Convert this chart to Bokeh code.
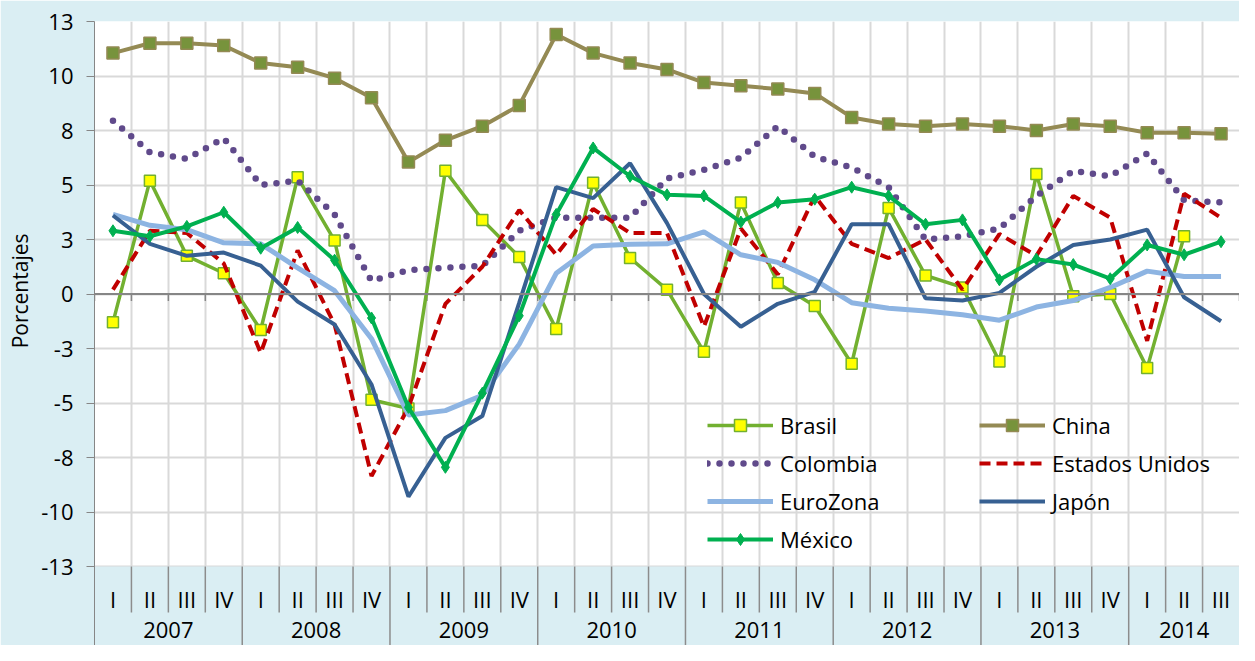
import numpy as np
from bokeh.plotting import figure
from bokeh.models import Range1d, FixedTicker, Legend, LegendItem, Span, Grid, Title
from bokeh.embed import file_html
from bokeh.resources import INLINE
from bokeh.core.properties import value

nan = float("nan")

# ---------------- data ----------------
years = ["2007", "2008", "2009", "2010", "2011", "2012", "2013", "2014"]
quarters_per_year = [4, 4, 4, 4, 4, 4, 4, 3]
quarter_names = ["I", "II", "III", "IV"]
quarters = [quarter_names[q] for n in quarters_per_year for q in range(n)]

brasil = [-1.3, 5.2, 1.75, 0.95,
          -1.65, 5.35, 2.45, -4.85,
          -5.25, 5.65, 3.4, 1.7,
          -1.6, 5.1, 1.65, 0.2,
          -2.65, 4.2, 0.5, -0.55,
          -3.2, 3.95, 0.85, 0.3,
          -3.1, 5.5, -0.1, 0.0,
          -3.4, 2.65, nan]

china = [11.05, 11.5, 11.5, 11.4,
         10.6, 10.4, 9.9, 9.0,
         6.05, 7.05, 7.7, 8.65,
         11.9, 11.05, 10.6, 10.3,
         9.7, 9.55, 9.4, 9.2,
         8.1, 7.8, 7.7, 7.8,
         7.7, 7.5, 7.8, 7.7,
         7.4, 7.4, 7.35]

colombia = [7.95, 6.5, 6.2, 7.15,
            5.0, 5.2, 3.65, 0.6,
            1.1, 1.2, 1.3, 2.9,
            3.5, 3.5, 3.5, 5.3,
            5.7, 6.25, 7.7, 6.3,
            5.8, 4.9, 2.5, 2.65,
            3.0, 4.5, 5.65, 5.4,
            6.45, 4.3, 4.2]

estados_unidos = [0.2, 2.9, 2.8, 1.4,
                  -2.7, 2.0, -1.4, -8.35,
                  -5.2, -0.45, 1.25, 3.85,
                  1.8, 3.9, 2.8, 2.8,
                  -1.5, 3.0, 0.9, 4.5,
                  2.3, 1.65, 2.5, 0.2,
                  2.75, 1.75, 4.5, 3.5,
                  -2.15, 4.6, 3.5]

eurozona = [3.65, 3.15, 2.95, 2.35,
            2.3, 1.2, 0.15, -2.05,
            -5.55, -5.35, -4.65, -2.3,
            0.95, 2.2, 2.28, 2.3,
            2.85, 1.8, 1.45, 0.65,
            -0.4, -0.65, -0.78, -0.95,
            -1.2, -0.6, -0.3, 0.3,
            1.05, 0.8, 0.8]

japon = [3.6, 2.3, 1.75, 1.9,
         1.3, -0.35, -1.4, -4.15,
         -9.3, -6.6, -5.6, -0.4,
         4.9, 4.4, 6.0, 3.25,
         0.0, -1.5, -0.45, 0.1,
         3.2, 3.2, -0.2, -0.3,
         0.05, 1.25, 2.25, 2.5,
         2.95, -0.15, -1.25]

mexico = [2.9, 2.65, 3.1, 3.75,
          2.1, 3.05, 1.55, -1.1,
          -5.2, -7.95, -4.55, -1.0,
          3.65, 6.7, 5.4, 4.55,
          4.5, 3.3, 4.2, 4.35,
          4.9, 4.5, 3.2, 3.4,
          0.65, 1.6, 1.35, 0.7,
          2.25, 1.8, 2.4]

y_ticks = [-12.5, -10, -7.5, -5, -2.5, 0, 2.5, 5, 7.5, 10, 12.5]
y_tick_labels = ["-13", "-10", "-8", "-5", "-3", "0", "3", "5", "8", "10", "13"]

# ---------------- style / layout ----------------
FONT = "Open Sans"
BG = "#DAEEF3"
GRID = "#D9D9D9"
AXIS = "#868686"
SEP = "#8C8C8C"
TXT = "#000000"

FIG_W, FIG_H = 1239, 645
TOP_BORDER, LEFT_BORDER = 21, 93
PLOT_BOT_PX = 566                 # figure px of bottom gridline
ppu = (PLOT_BOT_PX - TOP_BORDER) / (y_ticks[-1] - y_ticks[0])   # px per unit
def below(px):  # data y for a point px pixels below the bottom gridline
    return y_ticks[0] - px / ppu
y_start = below(FIG_H - PLOT_BOT_PX)

n = len(quarters)
x = np.arange(n) + 0.5
bounds = np.arange(n + 1)

p = figure(width=FIG_W, height=FIG_H,
           x_range=Range1d(0, n), y_range=Range1d(y_start, y_ticks[-1]),
           x_axis_location=None, output_backend="svg", toolbar_location=None,
           min_border_left=LEFT_BORDER, min_border_right=0,
           min_border_top=TOP_BORDER, min_border_bottom=0)
p.background_fill_color = "white"
p.border_fill_color = BG
p.outline_line_color = None

# y axis
yax = p.yaxis[0]
yax.ticker = FixedTicker(ticks=y_ticks)
yax.major_label_overrides = dict(zip(y_ticks, y_tick_labels))
yax.major_label_text_font = FONT
yax.major_label_text_font_size = "22px"
yax.major_label_text_color = TXT
yax.major_label_standoff = 13
yax.major_tick_in = 0
yax.major_tick_out = 8
yax.major_tick_line_color = AXIS
yax.minor_tick_line_color = None
yax.axis_line_color = AXIS
yax.axis_line_width = 1

# axis title (placed as a side title so it centres on the plotting area, not the table)
p.add_layout(Title(text="Porcentajes", align="right", offset=212, standoff=8,
                   vertical_align="middle", text_font=FONT, text_font_size="21px",
                   text_font_style="normal", text_color=TXT), "left")

# grids
p.ygrid.ticker = FixedTicker(ticks=y_ticks)
p.ygrid.grid_line_color = GRID
p.ygrid.grid_line_width = 2
vgrid = Grid(dimension=0, ticker=FixedTicker(ticks=list(bounds)),
             grid_line_color=GRID, grid_line_width=2)
p.add_layout(vgrid)

# category table background (below the plotting area)
p.quad(left=0, right=n, bottom=y_start, top=y_ticks[0], fill_color=BG, line_color=None)

# horizontal axis line at zero with ticks
p.add_layout(Span(location=0, dimension="width", line_color=AXIS, line_width=2))
p.segment(x0=bounds, y0=0, x1=bounds, y1=-7 / ppu, line_color=AXIS, line_width=1.5)

# ---------------- series ----------------
items = {}

r1 = p.line(x, brasil, line_color="#72B030", line_width=3.5)
r2 = p.scatter(x, brasil, marker="square", size=11, fill_color="#FFFF00",
               line_color="#72B030", line_width=1.5)
items["Brasil"] = [r1, r2]

r1 = p.line(x, china, line_color="#948A54", line_width=4)
r2 = p.scatter(x, china, marker="square", size=12, fill_color="#77933C",
               line_color="#948A54", line_width=1.5)
items["China"] = [r1, r2]

r1 = p.line(x, colombia, line_color="#604A8B", line_width=6.5,
            line_dash="0 12", line_cap="round")
items["Colombia"] = [r1]

r1 = p.line(x, estados_unidos, line_color="#C00000", line_width=4, line_dash="11 6")
items["Estados Unidos"] = [r1]

r1 = p.line(x, eurozona, line_color="#8DB4E2", line_width=5)
items["EuroZona"] = [r1]

r1 = p.line(x, japon, line_color="#376092", line_width=4)
items["Japón"] = [r1]

r1 = p.line(x, mexico, line_color="#00B050", line_width=4)
r2 = p.scatter(x, mexico, marker="diamond", size=12, fill_color="#00B050",
               line_color="#00B050")
items["México"] = [r1, r2]

def make_legend(names, left_px, top_px):
    rows = len(names)
    h = rows * 30 + (rows - 1) * 8
    loc = (left_px - LEFT_BORDER, FIG_H - (top_px + h))
    lg = Legend(items=[LegendItem(label=nm, renderers=items[nm]) for nm in names],
                location=loc, orientation="vertical",
                glyph_width=66, glyph_height=30, label_height=30,
                label_standoff=7, spacing=8, padding=0, margin=0,
                border_line_color=None, background_fill_alpha=0,
                label_text_font=FONT, label_text_font_size="22px",
                label_text_color=TXT)
    p.add_layout(lg)

make_legend(["Brasil", "Colombia", "EuroZona", "México"], 706, 410)
make_legend(["China", "Estados Unidos", "Japón"], 978, 410)

# ---------------- category table ----------------
year_starts = np.concatenate([[0], np.cumsum(quarters_per_year)[:-1]])
year_bounds = set(year_starts.tolist())
q_bounds = [b for b in bounds[1:-1] if b not in year_bounds]
y_bounds = [b for b in year_starts if b > 0]

p.segment(x0=q_bounds, y0=y_ticks[0], x1=q_bounds, y1=below(46),
          line_color=SEP, line_width=1.5)
p.segment(x0=y_bounds, y0=y_ticks[0], x1=y_bounds, y1=y_start,
          line_color=SEP, line_width=1.5)

p.text(x=x, y=[below(32)] * n, text=quarters, text_align="center",
       text_baseline="middle", text_font=value(FONT), text_font_size="22px",
       text_color=TXT)
year_centers = year_starts + np.array(quarters_per_year) / 2.0
p.text(x=year_centers, y=[below(63)] * len(years), text=years, text_align="center",
       text_baseline="middle", text_font=value(FONT), text_font_size="22px",
       text_color=TXT)

open("out.html", "w").write(file_html(p, INLINE))
